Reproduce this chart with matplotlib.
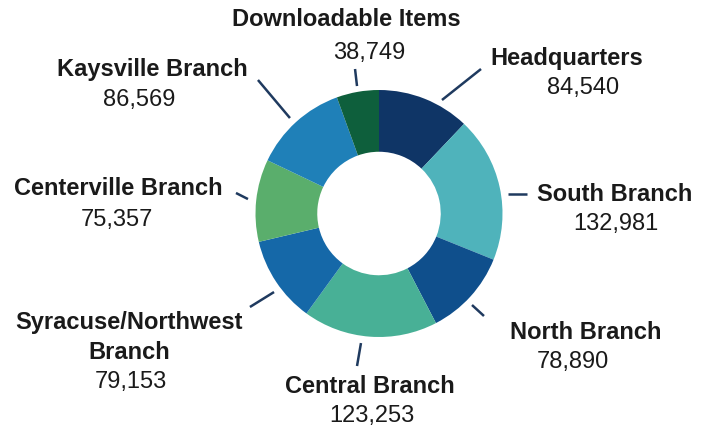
import matplotlib
matplotlib.use("Agg")
import matplotlib.pyplot as plt

plt.rcParams['font.family'] = ['Liberation Sans', 'DejaVu Sans']

names = ["Headquarters", "South Branch", "North Branch", "Central Branch",
         "Syracuse/Northwest\nBranch", "Centerville Branch", "Kaysville Branch",
         "Downloadable Items"]
values = [84540, 132981, 78890, 123253, 79153, 75357, 86569, 38749]
colors = ["#0f3566", "#4fb3bb", "#0f4f8c", "#48b096", "#1568a8", "#5aae6c",
          "#1f80b8", "#0e5f3c"]

# label layout (data units, pie radius = 1)
name_pos = [(1.518, 1.259), (1.907, 0.150), (1.676, -0.960), (-0.073, -1.397),
            (-2.024, -0.879), (-2.113, 0.206), (-1.838, 1.162), (-0.267, 1.567)]
value_pos = [(1.652, 1.020), (1.919, -0.085), (1.567, -1.202), (-0.057, -1.640),
             (-2.008, -1.364), (-2.121, -0.053), (-1.943, 0.919), (-0.081, 1.300)]
leader_start = [(0.510, 0.919), (1.045, 0.158), (0.753, -0.741), (-0.146, -1.049),
                (-0.850, -0.636), (-1.061, 0.117), (-0.721, 0.773), (-0.178, 1.032)]
leader_end = [(0.826, 1.170), (1.198, 0.158), (0.850, -0.830), (-0.178, -1.235),
              (-1.045, -0.757), (-1.158, 0.166), (-0.980, 1.081), (-0.194, 1.170)]
LINE_STEP = 0.243

W, H = 705, 429
cx, cy, R = 379, 213.5, 123.5
fig = plt.figure(figsize=(W / 100, H / 100), dpi=100)
ax = fig.add_axes([0, 0, 1, 1])
wedges, _ = ax.pie(values, colors=colors, startangle=90, counterclock=False,
                   radius=1.0, wedgeprops=dict(width=0.5, edgecolor='none'))
ax.set_xlim(-cx / R, (W - cx) / R)
ax.set_ylim(-(H - cy) / R, cy / R)
ax.set_aspect('equal')
ax.axis('off')

line_color = "#1f3a5f"
txt_color = "#1a1a1a"
for nm, v, npos, vpos, ls, le in zip(names, values, name_pos, value_pos,
                                     leader_start, leader_end):
    ax.plot([ls[0], le[0]], [ls[1], le[1]], color=line_color, lw=1.8,
            solid_capstyle='butt')
    y = npos[1]
    for p in nm.split("\n"):
        ax.text(npos[0], y, p, ha='center', va='center', fontsize=17,
                fontweight='bold', color=txt_color)
        y -= LINE_STEP
    ax.text(vpos[0], vpos[1], f"{v:,}", ha='center', va='center', fontsize=17,
            color=txt_color)

fig.savefig("out.png", dpi=100)
